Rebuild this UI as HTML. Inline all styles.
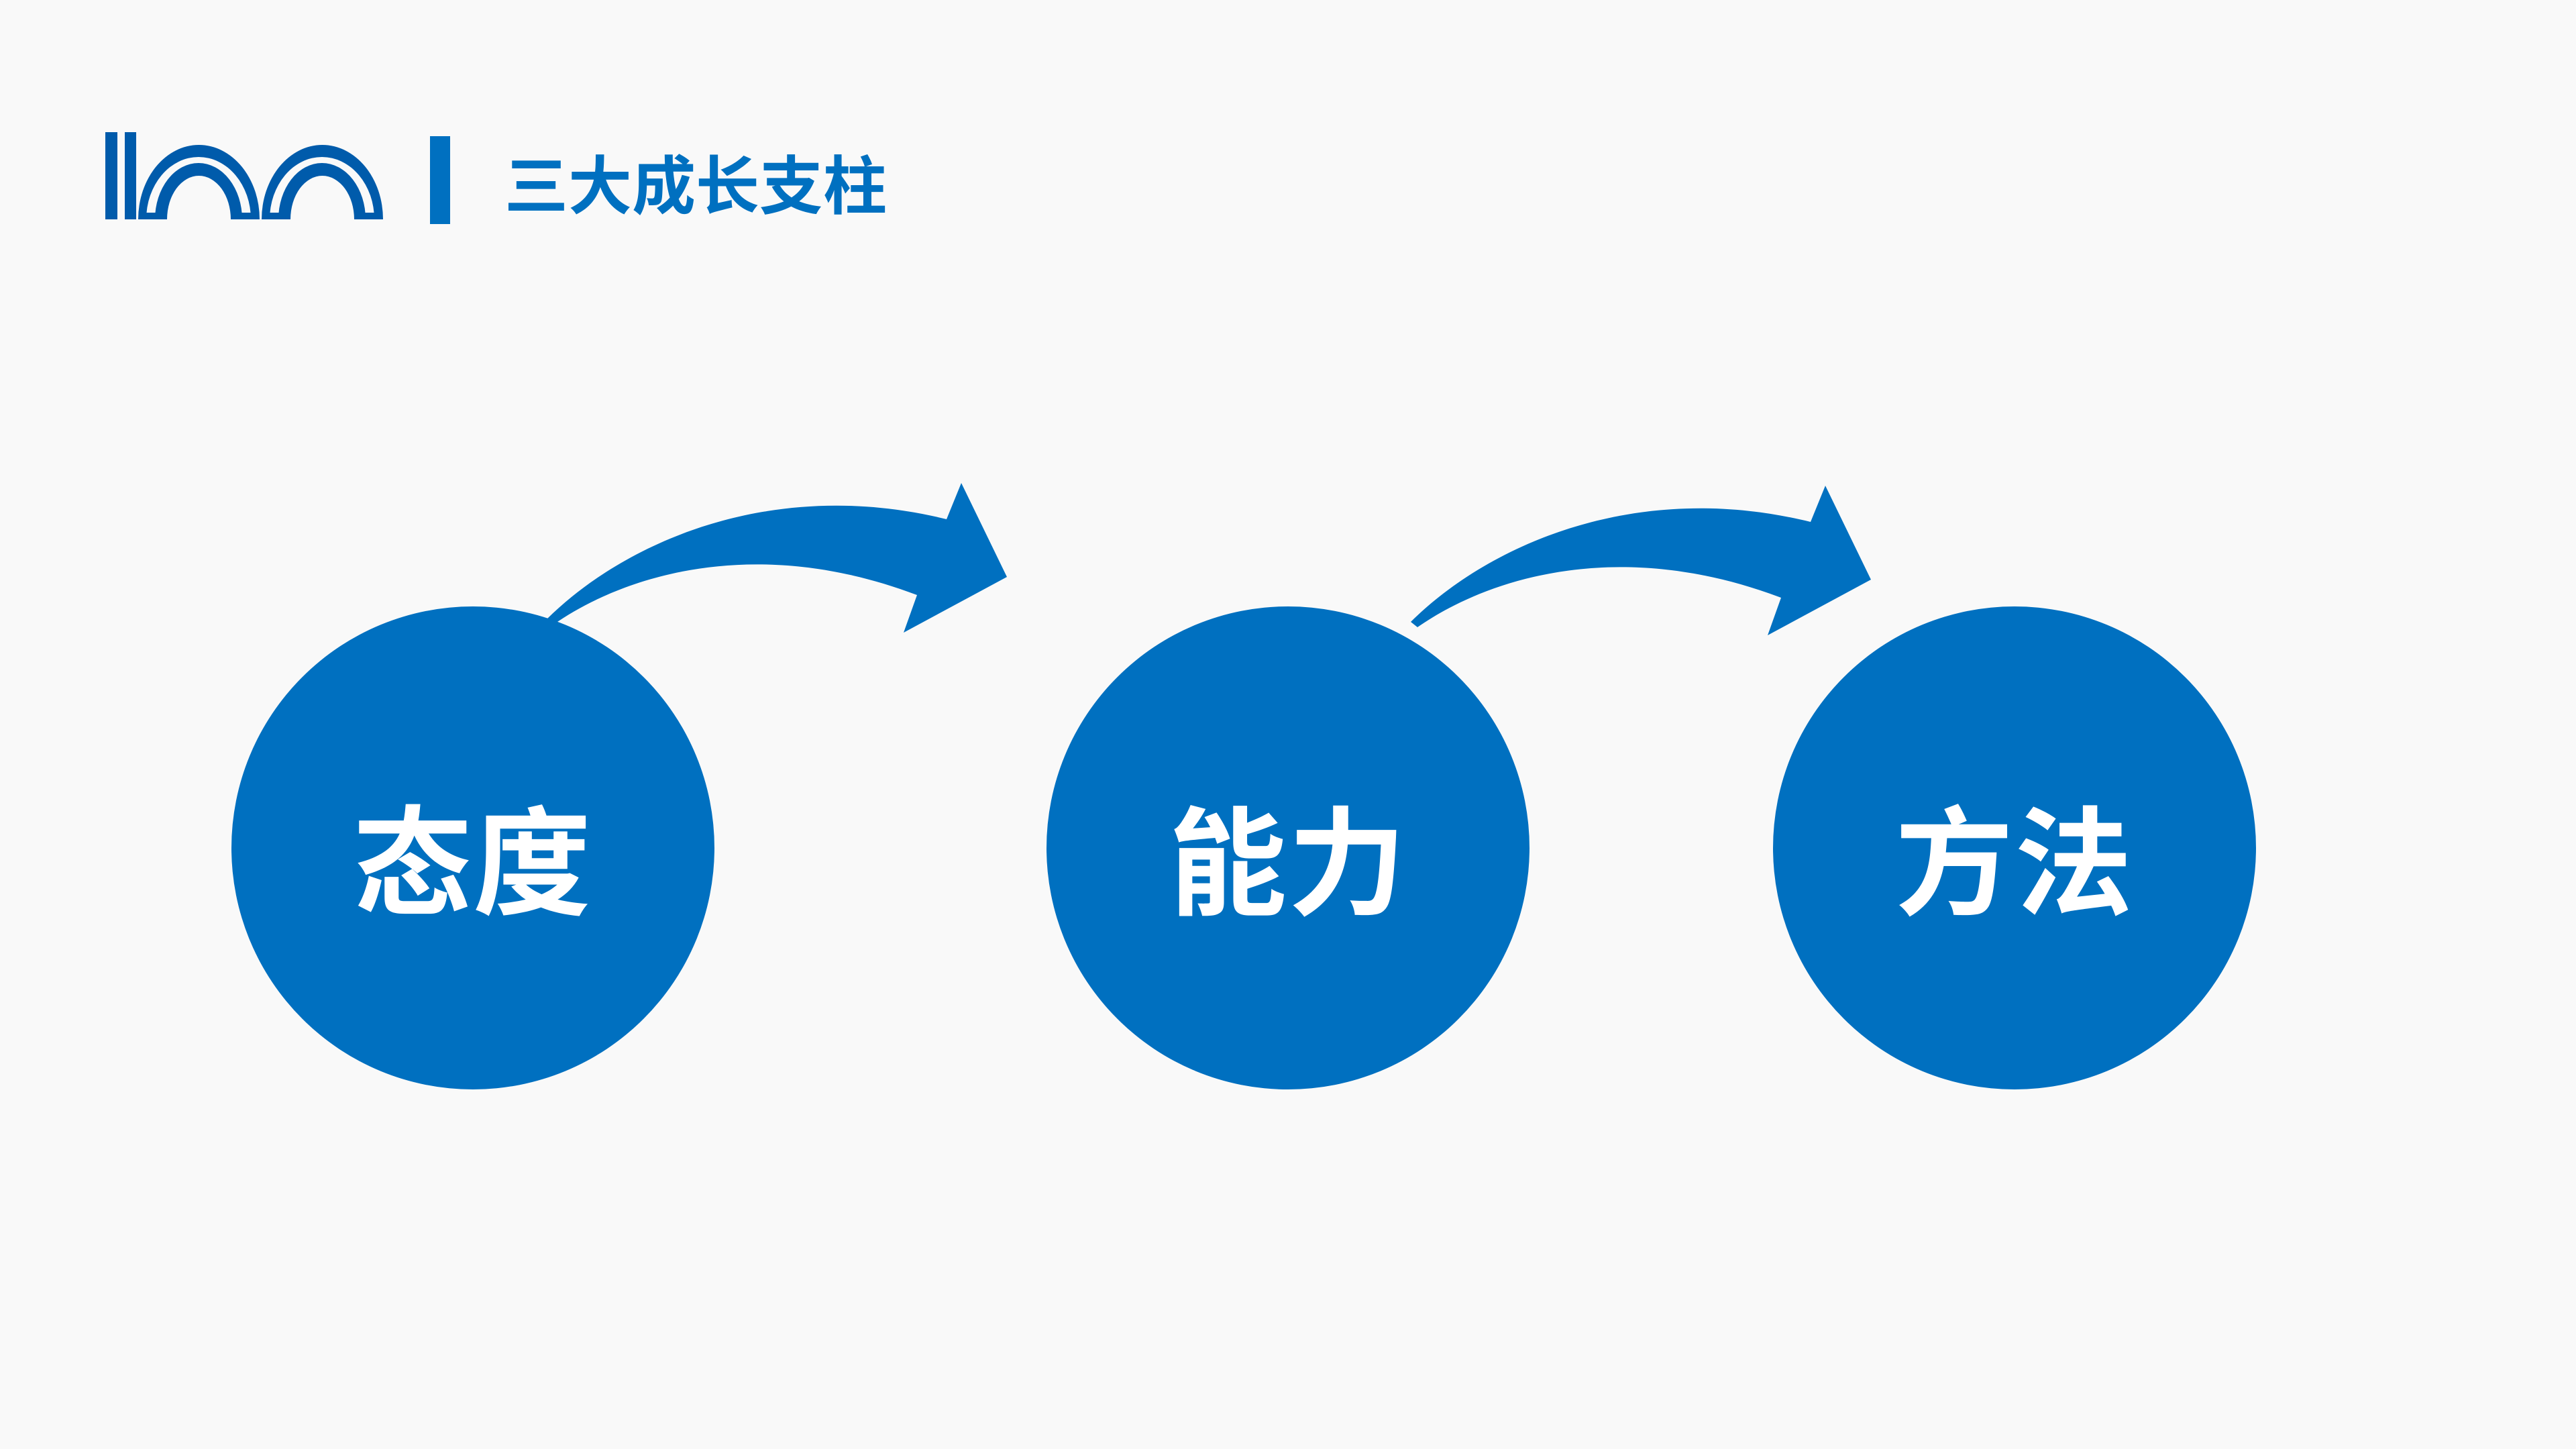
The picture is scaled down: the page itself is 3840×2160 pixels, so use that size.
<!DOCTYPE html>
<html><head><meta charset="utf-8"><style>
html,body{margin:0;padding:0;background:#f9f9f9;}
body{width:3840px;height:2160px;position:relative;overflow:hidden;font-family:"Liberation Sans","Noto Sans CJK SC",sans-serif;}
.t{position:absolute;color:#0070c0;font-weight:bold;white-space:nowrap;}
.c{position:absolute;width:720px;height:720px;border-radius:50%;background:#0070c0;color:#fff;font-weight:bold;font-size:176px;line-height:720px;text-align:center;letter-spacing:2px;}
.c span{position:relative;top:26px;}
</style></head><body>
<svg width="3840" height="2160" style="position:absolute;left:0;top:0">
<g fill="#005bab">
<rect x="157" y="197" width="18" height="130"/>
<rect x="186" y="197" width="17" height="130"/>
<g id="arch">
<path d="M206,327 A90.5,111 0 0 1 387,327 Z"/>
<path d="M218,327 A78,93 0 0 1 374,327 Z" fill="#f9f9f9"/>
<rect x="215" y="317" width="162" height="10"/>
<path d="M231,327 A65,84 0 0 1 361,327 Z"/>
<path d="M249,327 A47.5,65 0 0 1 344,327 Z" fill="#f9f9f9"/>
</g>
<use href="#arch" x="184"/>
</g>
<rect x="641" y="203" width="30" height="131" fill="#0070c0"/>
<g fill="#0070c0">
<path id="arr" d="M815,923 C931,808 1151,710 1411,774 L1433,720 L1501,860 L1347,943 L1367,887 C1127,796 931,857 825,931 Z"/>
<use href="#arr" x="1288" y="4"/>
</g>
</svg>
<div class="t" style="left:752px;top:224px;font-size:95px;line-height:110px;">三大成长支柱</div>
<div class="c" style="left:345px;top:904px;"><span>态度</span></div>
<div class="c" style="left:1560px;top:904px;"><span>能力</span></div>
<div class="c" style="left:2643px;top:904px;"><span>方法</span></div>
</body></html>
